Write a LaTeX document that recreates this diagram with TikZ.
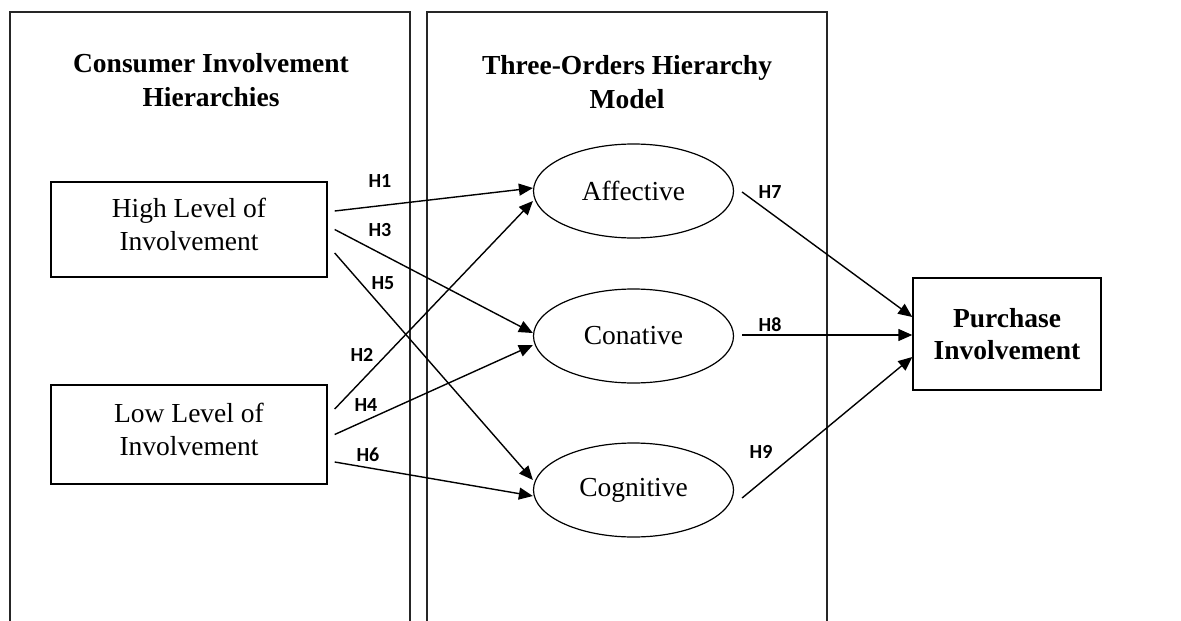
\documentclass[tikz,border=0pt]{standalone}
\usepackage{fontspec}
\setmainfont{Liberation Serif}
\newfontfamily\hfont{Carlito}
\usetikzlibrary{arrows.meta,shapes.geometric}
\begin{document}
\begin{tikzpicture}[x=1pt,y=-1pt,
  panel/.style={draw=black!85, line width=1.6pt},
  box/.style={draw, line width=1.4pt, minimum width=276pt, minimum height=95pt, inner sep=0pt, align=center, font=\fontsize{27.5}{33}\selectfont},
  ell/.style={draw, ellipse, line width=1.2pt, minimum width=200pt, minimum height=94pt, inner sep=0pt, font=\fontsize{27.5}{33}\selectfont},
  hyp/.style={inner sep=0pt, font=\hfont\bfseries\fontsize{20}{22}\selectfont},
  conn/.style={line width=1.4pt, -{Triangle[length=14pt,width=12pt]}},
  ttl/.style={inner sep=0pt, align=center, font=\bfseries\fontsize{27.5}{34}\selectfont}]
\useasboundingbox (0,0) rectangle (1181,621);
% panels
\draw[panel] (10,621) -- (10,12) -- (410,12) -- (410,621);
\draw[panel] (427,621) -- (427,12) -- (827,12) -- (827,621);
% titles
\node[ttl] (t1) at (211,80) {Consumer Involvement\\Hierarchies};
\node[ttl] (t2) at (627,82.5) {Three-Orders Hierarchy\\Model};
% boxes
\node[box] (hi) at (189,229.5) {High Level of\\Involvement\strut};
\node[box, minimum height=99pt] (lo) at (189,434.5) {Low Level of\\Involvement\strut};
\node[box, minimum width=188pt, minimum height=112pt, font=\bfseries\fontsize{27.5}{32}\selectfont] (pur) at (1007,334) {Purchase\\Involvement};
% ellipses
\node[ell] (aff) at (633.5,191) {Affective};
\node[ell] (con) at (633.5,336) {Conative};
\node[ell] (cog) at (633.5,490) {Cognitive};
% connectors
\draw[conn] ([xshift=7pt,yshift=18.5pt]hi.east) -- ([yshift=3pt]aff.west);
\draw[conn] ([xshift=7pt]hi.east) -- ([yshift=3pt]con.west);
\draw[conn] ([xshift=7pt,yshift=-23.5pt]hi.east) -- ([yshift=10pt]cog.west);
\draw[conn] ([xshift=7pt,yshift=25.5pt]lo.east) -- ([yshift=-10pt]aff.west);
\draw[conn] ([xshift=7pt]lo.east) -- ([yshift=-9pt]con.west);
\draw[conn] ([xshift=7pt,yshift=-27.5pt]lo.east) -- ([yshift=-6pt]cog.west);
\draw[conn] ([xshift=8pt,yshift=-1pt]aff.east) -- ([yshift=17pt]pur.west);
\draw[conn] ([xshift=8pt,yshift=1pt]con.east) -- ([yshift=-1pt]pur.west);
\draw[conn] ([xshift=8pt,yshift=-8pt]cog.east) -- ([yshift=-23pt]pur.west);
% labels
\node[hyp] (h1) at (380,181) {H1};
\node[hyp] (h3) at (380,230) {H3};
\node[hyp] (h5) at (383,283) {H5};
\node[hyp] (h2) at (362,355) {H2};
\node[hyp] (h4) at (366,405) {H4};
\node[hyp] (h6) at (368,455) {H6};
\node[hyp] (h7) at (770,192) {H7};
\node[hyp] (h8) at (770,325) {H8};
\node[hyp] (h9) at (761,452) {H9};
\end{tikzpicture}
\end{document}
